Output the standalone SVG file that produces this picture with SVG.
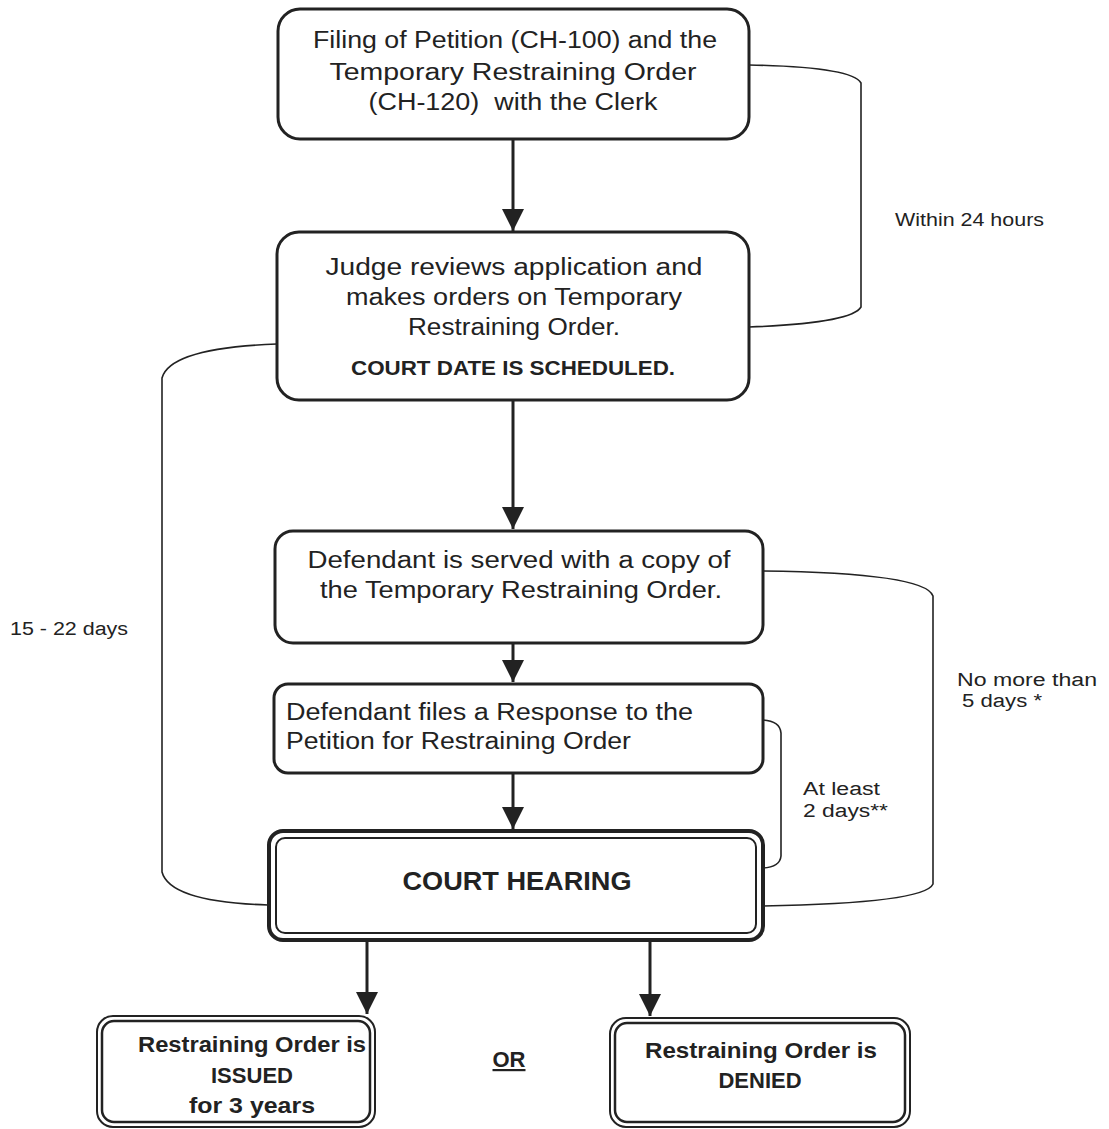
<svg xmlns="http://www.w3.org/2000/svg" width="1109" height="1129" viewBox="0 0 1109 1129">
<defs>
<style>
.box{fill:#fff;stroke:#222;stroke-width:3}
.t{font-family:"Liberation Sans",Arial,sans-serif;font-size:23px;fill:#222}
.c{text-anchor:middle}
.b{font-weight:bold}
.lbl{font-family:"Liberation Sans",Arial,sans-serif;font-size:18px;fill:#222}
.ln{fill:none;stroke:#222;stroke-width:1.6}
.ar{fill:none;stroke:#222;stroke-width:3}
</style>
<marker id="ah" viewBox="0 0 10 10" refX="10" refY="5" markerWidth="7.5" markerHeight="7.5" markerUnits="strokeWidth" orient="auto">
<path d="M0,0 L10,5 L0,10 Z" fill="#222"/>
</marker>
</defs>
<rect width="1109" height="1129" fill="#fff"/>
<g id="connectors">
<path class="ar" d="M513,139 L513,231" marker-end="url(#ah)"/>
<path class="ar" d="M513,400 L513,529" marker-end="url(#ah)"/>
<path class="ar" d="M513,643 L513,682" marker-end="url(#ah)"/>
<path class="ar" d="M513,773 L513,829" marker-end="url(#ah)"/>
<path class="ar" d="M367,940 L367,1014" marker-end="url(#ah)"/>
<path class="ar" d="M650,940 L650,1016" marker-end="url(#ah)"/>
<path class="ln" d="M749,65 Q852,67 861,83 L861,307 Q852,323 749,327"/>
<path class="ln" d="M277,344 Q170,348 162,378 L162,872 Q170,902 268,905"/>
<path class="ln" d="M763,571 Q925,573 933,596 L933,884 Q925,903 763,906"/>
<path class="ln" d="M763,720 Q780,721 781,733 L781,856 Q780,867 763,868"/>
</g>
<g id="n1">
<rect class="box" x="278" y="9" width="471" height="130" rx="22"/>
<text class="t c" x="515" y="48" textLength="404" lengthAdjust="spacingAndGlyphs">Filing of Petition (CH-100) and the</text>
<text class="t c" x="513" y="80" textLength="367" lengthAdjust="spacingAndGlyphs">Temporary Restraining Order</text>
<text class="t c" x="513" y="110" textLength="289" lengthAdjust="spacingAndGlyphs">(CH-120)&#160; with the Clerk</text>
</g>
<g id="n2">
<rect class="box" x="277" y="232" width="472" height="168" rx="22"/>
<text class="t c" x="514" y="275" textLength="377" lengthAdjust="spacingAndGlyphs">Judge reviews application and</text>
<text class="t c" x="514" y="305" textLength="336" lengthAdjust="spacingAndGlyphs">makes orders on Temporary</text>
<text class="t c" x="514" y="335" textLength="212" lengthAdjust="spacingAndGlyphs">Restraining Order.</text>
<text class="t c b" x="513" y="375" textLength="324" lengthAdjust="spacingAndGlyphs" style="font-size:20px">COURT DATE IS SCHEDULED.</text>
</g>
<g id="n3">
<rect class="box" x="275" y="531" width="488" height="112" rx="18"/>
<text class="t c" x="519" y="568" textLength="423" lengthAdjust="spacingAndGlyphs">Defendant is served with a copy of</text>
<text class="t c" x="521" y="598" textLength="402" lengthAdjust="spacingAndGlyphs">the Temporary Restraining Order.</text>
</g>
<g id="n4">
<rect class="box" x="274" y="684" width="489" height="89" rx="14"/>
<text class="t" x="286" y="720" textLength="407" lengthAdjust="spacingAndGlyphs">Defendant files a Response to the</text>
<text class="t" x="286" y="749" textLength="345" lengthAdjust="spacingAndGlyphs">Petition for Restraining Order</text>
</g>
<g id="n5">
<rect x="269" y="831" width="494" height="109" rx="14" fill="#fff" stroke="#222" stroke-width="4"/>
<rect x="276" y="838" width="480" height="95" rx="9" fill="none" stroke="#222" stroke-width="2"/>
<text class="t c b" x="517" y="890" textLength="229" lengthAdjust="spacingAndGlyphs" style="font-size:25px">COURT HEARING</text>
</g>
<g id="n6">
<rect x="97" y="1016" width="278" height="111" rx="16" fill="#fff" stroke="#222" stroke-width="2"/>
<rect x="102" y="1021" width="268" height="101" rx="12" fill="none" stroke="#222" stroke-width="2.5"/>
<text class="t c b" x="252" y="1052" textLength="228" lengthAdjust="spacingAndGlyphs" style="font-size:22px">Restraining Order is</text>
<text class="t c b" x="252" y="1083" textLength="82" lengthAdjust="spacingAndGlyphs" style="font-size:22px">ISSUED</text>
<text class="t c b" x="252" y="1113" textLength="126" lengthAdjust="spacingAndGlyphs" style="font-size:22px">for 3 years</text>
</g>
<g id="n7">
<rect x="610" y="1018" width="300" height="109" rx="16" fill="#fff" stroke="#222" stroke-width="2"/>
<rect x="615" y="1023" width="290" height="99" rx="12" fill="none" stroke="#222" stroke-width="2.5"/>
<text class="t c b" x="761" y="1058" textLength="232" lengthAdjust="spacingAndGlyphs" style="font-size:22px">Restraining Order is</text>
<text class="t c b" x="760" y="1088" textLength="83" lengthAdjust="spacingAndGlyphs" style="font-size:22px">DENIED</text>
</g>
<g id="labels">
<text class="lbl" x="895" y="226" textLength="149" lengthAdjust="spacingAndGlyphs">Within 24 hours</text>
<text class="lbl" x="10" y="635" textLength="118" lengthAdjust="spacingAndGlyphs">15 - 22 days</text>
<text class="lbl" x="957" y="686" textLength="140" lengthAdjust="spacingAndGlyphs">No more than</text>
<text class="lbl" x="962" y="707" textLength="80" lengthAdjust="spacingAndGlyphs">5 days *</text>
<text class="lbl" x="803" y="795" textLength="77" lengthAdjust="spacingAndGlyphs">At least</text>
<text class="lbl" x="803" y="817" textLength="85" lengthAdjust="spacingAndGlyphs">2 days**</text>
<text class="t c b" x="509" y="1067" style="font-size:22px" text-decoration="underline">OR</text>
</g>
</svg>
